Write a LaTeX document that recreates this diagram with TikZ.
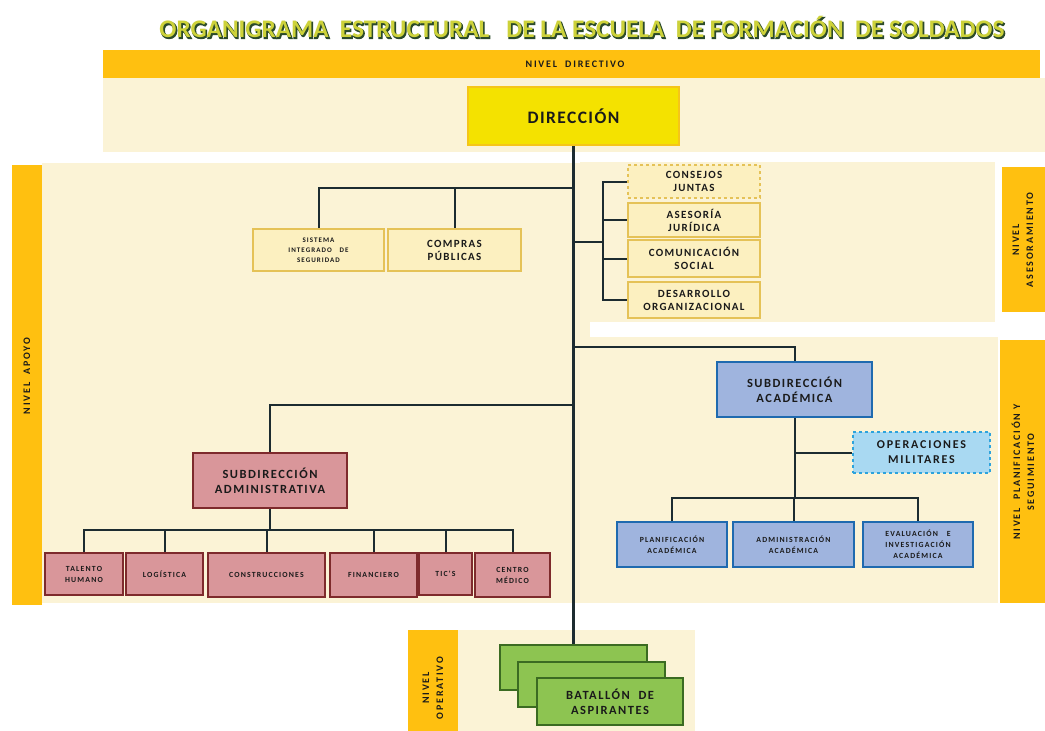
\documentclass[tikz,border=0pt]{standalone}
\usepackage{fontspec}
\setmainfont{Carlito}
\newfontfamily\lblf{Carlito}
\newfontfamily\ttlshadowf{Carlito}[FakeBold=4]
\newcommand\lfnt[3]{\lblf\bfseries\fontsize{#1}{#2}\selectfont\addfontfeature{LetterSpace=#3}}
\newcommand\ttltext{ORGANIGRAMA\ \ ESTRUCTURAL\ \ \ DE LA ESCUELA\ \ DE FORMACIÓN\ \ DE SOLDADOS}
\definecolor{band}{HTML}{FFC010}
\definecolor{cream}{HTML}{FBF3D6}
\definecolor{dirfill}{HTML}{F4E200}
\definecolor{dirborder}{HTML}{F5C518}
\definecolor{yfill}{HTML}{FCF0C0}
\definecolor{yborder}{HTML}{E5C257}
\definecolor{bluefill}{HTML}{9FB4DE}
\definecolor{blueborder}{HTML}{1F6AAF}
\definecolor{opfill}{HTML}{A9D9F2}
\definecolor{opborder}{HTML}{2DA3DC}
\definecolor{redfill}{HTML}{D9969A}
\definecolor{redborder}{HTML}{7E2A2C}
\definecolor{greenfill}{HTML}{8DC451}
\definecolor{greenborder}{HTML}{3B6B22}
\definecolor{linec}{HTML}{1C2B30}
\definecolor{titlefill}{HTML}{CDD23A}
\definecolor{titleshade}{HTML}{2B4A2A}
\definecolor{txt}{HTML}{1A1A1A}
\tikzset{
  basebox/.style={align=center, inner sep=0pt, text=txt},
  dirbox/.style={basebox, draw=dirborder, fill=dirfill, line width=2.5pt, font=\lfnt{17.5}{19}{8}},
  ybox/.style={basebox, draw=yborder, fill=yfill, line width=2.5pt, font=\lfnt{11}{13}{12}},
  ysmall/.style={ybox, font=\lfnt{7}{10}{15}},
  bluebig/.style={basebox, draw=blueborder, fill=bluefill, line width=2.5pt, font=\lfnt{12.5}{15}{12}},
  bluesmall/.style={basebox, draw=blueborder, fill=bluefill, line width=2.5pt, font=\lfnt{7.8}{11}{15}},
  opbox/.style={basebox, draw=opborder, fill=opfill, line width=2.5pt, dashed, font=\lfnt{12}{15}{15}},
  redbig/.style={basebox, draw=redborder, fill=redfill, line width=2.5pt, font=\lfnt{12.5}{15}{12}},
  redsmall/.style={basebox, draw=redborder, fill=redfill, line width=2.5pt, font=\lfnt{7.8}{11}{15}},
  greenbox/.style={basebox, draw=greenborder, fill=greenfill, line width=2.5pt, font=\lfnt{12.5}{15}{12}},
  bandlbl/.style={align=center, inner sep=0pt, text=txt, font=\lfnt{10}{14}{18}},
  conn/.style={draw=linec, line width=2pt},
  mainline/.style={draw=linec, line width=3pt},
  titletxt/.style={inner sep=0pt},
}
\begin{document}
\begin{tikzpicture}[x=1pt,y=-1pt]
\useasboundingbox (0,0) rectangle (1045,731);
\fill[white] (0,0) rectangle (1045,731);
% background regions
\fill[band] (103,50) rectangle (1040,78);
\fill[cream] (103,78) rectangle (1045,152);
\fill[cream] (42,163) rectangle (590,603);
\fill[cream] (580,162) rectangle (995,322);
\fill[cream] (580,337) rectangle (998,603);
\fill[band] (12,165) rectangle (42,605);
\fill[band] (1002,167) rectangle (1045,312);
\fill[band] (1000,340) rectangle (1045,603);
\fill[band] (408,630) rectangle (458,731);
\fill[cream] (458,630) rectangle (695,731);
% title: dark emboldened shadow, then coloured text
\node[titletxt, text=titleshade] (tshadow) at (583,28) {\resizebox{845pt}{!}{\ttlshadowf\bfseries\ttltext}};
\node[titletxt, text=titlefill] (title) at (582,27) {\resizebox{845pt}{!}{\lblf\bfseries\ttltext}};
% band labels
\node[bandlbl] (ldir) at (575,64) {NIVEL\ \ DIRECTIVO};
\node[bandlbl, rotate=90] (lapo) at (27,376) {NIVEL\ \ APOYO};
\node[bandlbl, rotate=90] (lase) at (1023,240) {NIVEL\\ASESORAMIENTO};
\node[bandlbl, rotate=90] (lpla) at (1023,472) {NIVEL\ \ PLANIFICACIÓN\ Y\\SEGUIMIENTO};
\node[bandlbl, rotate=90] (lope) at (433,688) {NIVEL\\OPERATIVO};
% direccion
\node[dirbox, minimum width=211, minimum height=58] (dir) at (573.5,116) {DIRECCIÓN};
% apoyo top
\node[ysmall, minimum width=131, minimum height=42] (sis) at (318.5,250) {SISTEMA\\INTEGRADO\ \ \ DE\\SEGURIDAD};
\node[ybox, minimum width=133, minimum height=42] (comp) at (454.5,250) {COMPRAS\\PÚBLICAS};
% asesoramiento
\node[ybox, dashed, minimum width=132, minimum height=33] (cons) at (694,181.5) {CONSEJOS\\JUNTAS};
\node[ybox, minimum width=132, minimum height=34] (ases) at (694,220) {ASESORÍA\\JURÍDICA};
\node[ybox, minimum width=132, minimum height=37] (comu) at (694,258.5) {COMUNICACIÓN\\SOCIAL};
\node[ybox, minimum width=132, minimum height=36] (desa) at (694,300) {DESARROLLO\\ORGANIZACIONAL};
% academica
\node[bluebig, minimum width=155, minimum height=55] (subac) at (794.5,389.5) {SUBDIRECCIÓN\\ACADÉMICA};
\node[opbox, minimum width=137, minimum height=41] (oper) at (921.5,452.5) {OPERACIONES\\MILITARES};
\node[bluesmall, minimum width=110, minimum height=45] (plan) at (672,544.5) {PLANIFICACIÓN\\ACADÉMICA};
\node[bluesmall, minimum width=121, minimum height=45] (admac) at (793.5,544.5) {ADMINISTRACIÓN\\ACADÉMICA};
\node[bluesmall, minimum width=110, minimum height=45] (eval) at (918,544.5) {EVALUACIÓN\ \ \ E\\INVESTIGACIÓN\\ACADÉMICA};
% administrativa
\node[redbig, minimum width=154, minimum height=55] (subad) at (270,480.5) {SUBDIRECCIÓN\\ADMINISTRATIVA};
\node[redsmall, minimum width=78, minimum height=42] (tal) at (84,574) {TALENTO\\HUMANO};
\node[redsmall, minimum width=77, minimum height=42] (log) at (164.5,574) {LOGÍSTICA};
\node[redsmall, minimum width=117, minimum height=44] (cstr) at (266.5,575) {CONSTRUCCIONES};
\node[redsmall, minimum width=87, minimum height=44] (fin) at (373.5,575) {FINANCIERO};
\node[redsmall, minimum width=53, minimum height=42] (tics) at (445.5,574) {TIC'S};
\node[redsmall, minimum width=75, minimum height=44] (cen) at (512.5,575) {CENTRO\\MÉDICO};
% operativo
\node[greenbox, minimum width=147, minimum height=45] (bat1) at (573.5,667.5) {};
\node[greenbox, minimum width=147, minimum height=45] (bat2) at (591.5,684.5) {};
\node[greenbox, minimum width=146, minimum height=47] (bat3) at (610,701.5) {BATALLÓN\ \ DE\\ASPIRANTES};
% connectors
\coordinate (ja) at (573.5,188);
\coordinate (jb) at (573.5,242);
\coordinate (jbb) at (603,242);
\coordinate (jc) at (573.5,347);
\coordinate (jd) at (794.5,498);
\coordinate (jo) at (794.5,452.5);
\coordinate (je) at (573.5,405);
\coordinate (jf) at (270,530);
\draw[mainline] (dir.south) -- (bat1.north);
\draw[conn] (ja) -| (sis.north);
\draw[conn] (ja) -| (comp.north);
\draw[conn] (jb) -- (jbb);
\draw[conn] (jbb) |- (cons.west);
\draw[conn] (jbb) |- (ases.west);
\draw[conn] (jbb) |- (comu.west);
\draw[conn] (jbb) |- (desa.west);
\draw[conn] (jc) -| (subac.north);
\draw[conn] (subac.south) -- (jd);
\draw[conn] (jo) -- (oper.west);
\draw[conn] (jd) -| (plan.north);
\draw[conn] (jd) -| (admac.north);
\draw[conn] (jd) -| (eval.north);
\draw[conn] (je) -| (subad.north);
\draw[conn] (subad.south) -- (jf);
\draw[conn] (jf) -| (tal.north);
\draw[conn] (jf) -| (log.north);
\draw[conn] (jf) -| (cstr.north);
\draw[conn] (jf) -| (fin.north);
\draw[conn] (jf) -| (tics.north);
\draw[conn] (jf) -| (cen.north);
\end{tikzpicture}
\end{document}
